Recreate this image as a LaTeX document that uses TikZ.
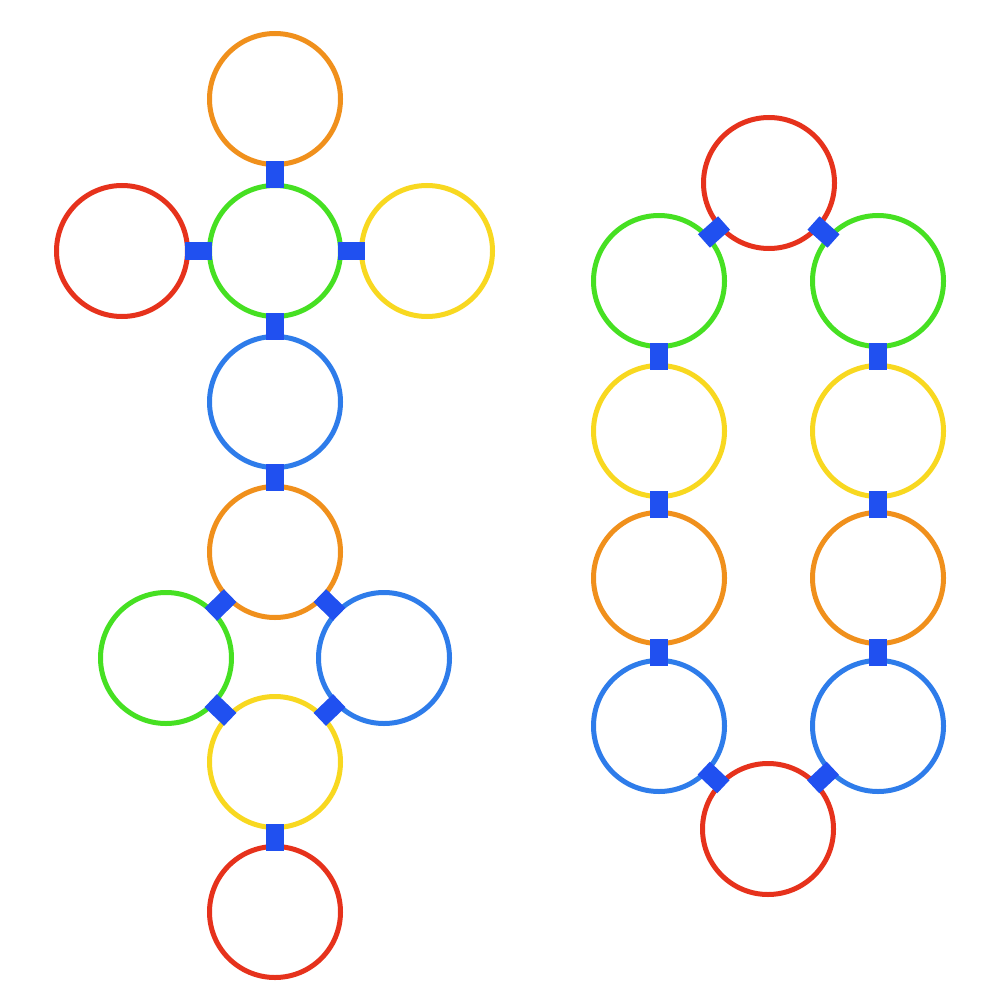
\documentclass[tikz,border=0pt]{standalone}
\definecolor{cOrange}{HTML}{F0901C}
\definecolor{cGreen}{HTML}{46E022}
\definecolor{cRed}{HTML}{E6321C}
\definecolor{cYellow}{HTML}{F8D820}
\definecolor{cBlue}{HTML}{2E7CEA}
\definecolor{cLink}{HTML}{2050F0}
\begin{document}
\begin{tikzpicture}[x=1pt,y=-1pt,
  ring/.style={circle,draw=#1,line width=5pt,minimum size=131pt,inner sep=0pt},
  link/.style={rectangle,fill=cLink,minimum width=27pt,minimum height=18pt,inner sep=0pt,sloped}]
\useasboundingbox (0,0) rectangle (1000,1000);
% left figure
\node[ring=cOrange] (lo1) at (275,99) {};
\node[ring=cGreen]  (lg1) at (275,251) {};
\node[ring=cRed]    (lr1) at (122,251) {};
\node[ring=cYellow] (ly1) at (427,251) {};
\node[ring=cBlue]   (lb1) at (275,402) {};
\node[ring=cOrange] (lo2) at (275,552) {};
\node[ring=cGreen]  (lg2) at (166,658) {};
\node[ring=cBlue]   (lb2) at (384,658) {};
\node[ring=cYellow] (ly2) at (275,762) {};
\node[ring=cRed]    (lr2) at (275,912) {};
% right figure
\node[ring=cRed]    (rr1) at (769,183) {};
\node[ring=cGreen]  (rgl) at (659,281) {};
\node[ring=cGreen]  (rgr) at (878,281) {};
\node[ring=cYellow] (ryl) at (659,431) {};
\node[ring=cYellow] (ryr) at (878,431) {};
\node[ring=cOrange] (rol) at (659,578) {};
\node[ring=cOrange] (ror) at (878,578) {};
\node[ring=cBlue]   (rbl) at (659,726) {};
\node[ring=cBlue]   (rbr) at (878,726) {};
\node[ring=cRed]    (rr2) at (768,829) {};
% links
\foreach \a/\b in {lo1/lg1,lr1/lg1,lg1/ly1,lg1/lb1,lb1/lo2,lo2/lg2,lo2/lb2,lg2/ly2,lb2/ly2,ly2/lr2,
  rr1/rgl,rr1/rgr,rgl/ryl,rgr/ryr,ryl/rol,ryr/ror,rol/rbl,ror/rbr,rbl/rr2,rbr/rr2}
  \path (\a.center) -- node[link] {} (\b.center);
\end{tikzpicture}
\end{document}
